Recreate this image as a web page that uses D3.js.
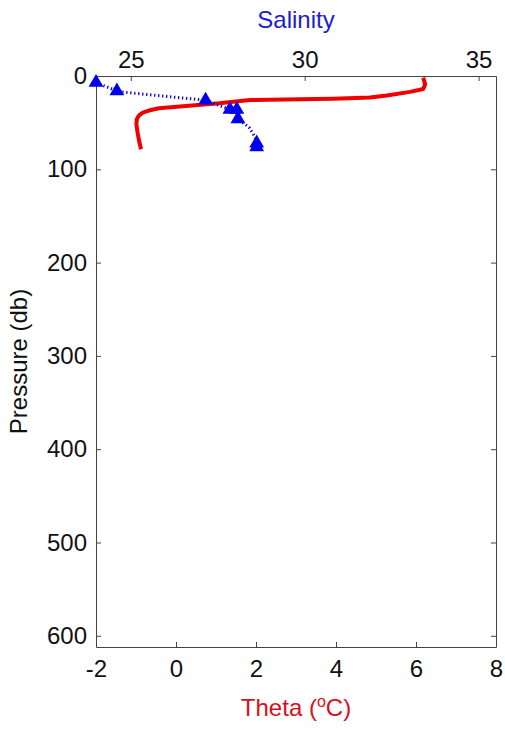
<!DOCTYPE html>
<html>
<head>
<meta charset="utf-8">
<script src="https://cdn.jsdelivr.net/npm/d3@7"></script>
<style>
  body { margin: 0; background: #fff; }
  text { font-family: "Liberation Sans", Arial, sans-serif; }
</style>
</head>
<body>
<svg id="chart" width="505" height="730"></svg>
<script>
// theta profile (pressure in db, potential temperature in degC)
var thetaPressure = [1.8, 9, 14, 17, 21, 23, 24.3, 25, 25.7, 29.3, 32.1, 34.6, 37, 39.3, 42.5, 46.4, 52, 60.7, 70, 78.5];
var thetaValues = [6.18, 6.23, 6.18, 5.85, 5.27, 4.85, 3.93, 3.1, 1.85, 1.08, 0.25, -0.43, -0.68, -0.83, -0.93, -0.98, -0.99, -0.96, -0.92, -0.875];

// bottle salinity samples
var salPressure = [7, 16, 26, 36, 36, 46, 72, 76];
var salValues = [24.0, 24.6, 27.15, 27.85, 28.05, 28.08, 28.62, 28.62];

// dotted salinity trace
var salLinePressure = [7, 16, 17, 26, 36, 36, 46, 55, 66, 76];
var salLineValues = [24.0, 24.6, 24.7, 27.15, 27.85, 28.05, 28.08, 28.4, 28.58, 28.62];

var thetaTicks = [-2, 0, 2, 4, 6, 8];
var salTicks = [25, 30, 35];
var pressureTicks = [0, 100, 200, 300, 400, 500, 600];

var plotLeft = 96, plotRight = 496, plotTop = 76, plotBottom = 647;
var axisColor = "#444";
var plainFormat = function (d) { return String(d); };

var svg = d3.select("#chart");

var x = d3.scaleLinear().domain([-2, 8]).range([plotLeft, plotRight]);
var s = d3.scaleLinear().domain([24, 35.5]).range([plotLeft, plotRight]);
var y = d3.scaleLinear().domain([0, 612]).range([plotTop, plotBottom]);

function styleAxis(g) {
    g.selectAll("path").attr("stroke", axisColor);
    g.selectAll("line").attr("stroke", axisColor);
    g.selectAll("text")
        .attr("fill", "#111")
        .style("font-size", "24px")
        .style("font-family", "'Liberation Sans', Arial, sans-serif");
}

// bottom theta axis
svg.append("g")
    .attr("transform", "translate(0," + plotBottom + ")")
    .call(d3.axisBottom(x).tickValues(thetaTicks).tickFormat(plainFormat)
        .tickSize(-5).tickSizeOuter(0).tickPadding(13))
    .call(styleAxis);

// top salinity axis
svg.append("g")
    .attr("transform", "translate(0," + plotTop + ")")
    .call(d3.axisTop(s).tickValues(salTicks).tickFormat(plainFormat)
        .tickSize(-5).tickSizeOuter(0).tickPadding(8))
    .call(styleAxis);

// left pressure axis
svg.append("g")
    .attr("transform", "translate(" + plotLeft + ",0)")
    .call(d3.axisLeft(y).tickValues(pressureTicks).tickFormat(plainFormat)
        .tickSize(-5).tickSizeOuter(0).tickPadding(9))
    .call(styleAxis);

// right side: ticks only
svg.append("g")
    .attr("transform", "translate(" + plotRight + ",0)")
    .call(d3.axisRight(y).tickValues(pressureTicks).tickSize(-5).tickSizeOuter(0).tickFormat(""))
    .call(styleAxis);

// theta curve
var thetaPts = thetaPressure.map(function (p, i) { return [thetaValues[i], p]; });
svg.append("path")
    .datum(thetaPts)
    .attr("fill", "none")
    .attr("stroke", "#f00000")
    .attr("stroke-width", 4)
    .attr("stroke-linejoin", "round")
    .attr("d", d3.line()
        .x(function (d) { return x(d[0]); })
        .y(function (d) { return y(d[1]); }));

// salinity dotted trace
var salLinePts = salLinePressure.map(function (p, i) { return [salLineValues[i], p]; });
svg.append("path")
    .datum(salLinePts)
    .attr("fill", "none")
    .attr("stroke", "#0000e0")
    .attr("stroke-width", 3)
    .attr("stroke-dasharray", "1.3,2.7")
    .attr("d", d3.line()
        .x(function (d) { return s(d[0]); })
        .y(function (d) { return y(d[1]); }));

// salinity markers
var tri = d3.symbol().type(d3.symbolTriangle).size(95);
svg.append("g")
    .selectAll("path")
    .data(salPressure)
    .join("path")
    .attr("d", tri)
    .attr("fill", "#0000f0")
    .attr("transform", function (p, i) {
        return "translate(" + s(salValues[i]) + "," + y(p) + ")";
    });

// axis titles
svg.append("text")
    .attr("x", (plotLeft + plotRight) / 2)
    .attr("y", 28)
    .attr("text-anchor", "middle")
    .attr("fill", "#1c1cd0")
    .style("font-size", "24px")
    .text("Salinity");

var thetaLabel = svg.append("text")
    .attr("x", (plotLeft + plotRight) / 2)
    .attr("y", 716)
    .attr("text-anchor", "middle")
    .attr("fill", "#d8101c")
    .style("font-size", "24px");
thetaLabel.append("tspan").text("Theta (");
thetaLabel.append("tspan").attr("dy", -9).style("font-size", "16px").text("o");
thetaLabel.append("tspan").attr("dy", 9).text("C)");

svg.append("text")
    .attr("transform", "translate(27," + (plotTop + plotBottom) / 2 + ") rotate(-90)")
    .attr("text-anchor", "middle")
    .attr("fill", "#111")
    .style("font-size", "24px")
    .text("Pressure (db)");
</script>
</body>
</html>
